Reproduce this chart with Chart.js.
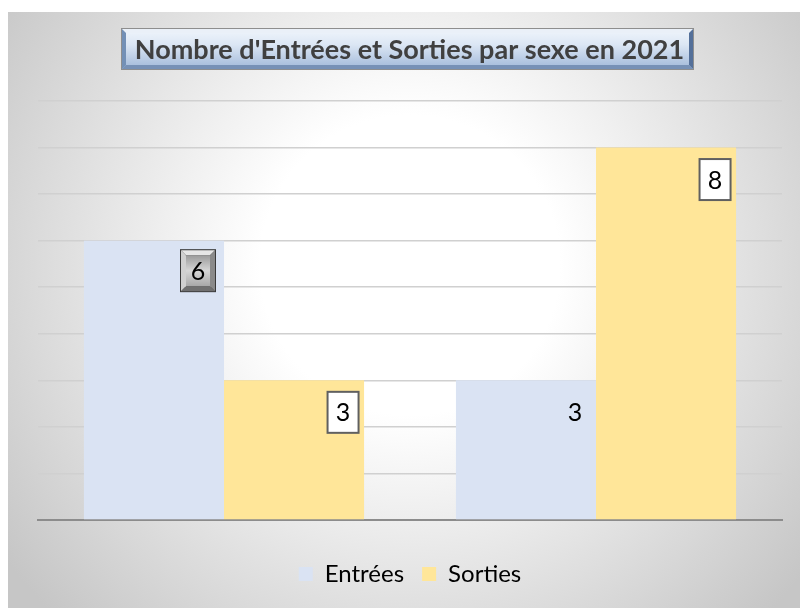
<!DOCTYPE html>
<html>
<head>
<meta charset="utf-8">
<script src="https://cdn.jsdelivr.net/npm/chart.js@4"></script>
<style>
  body { margin: 0; background: #fff; }
  #wrap { position: absolute; left: 0; top: 0; width: 800px; height: 608px; }
</style>
</head>
<body>
<div id="wrap"><canvas id="chart" width="800" height="608"></canvas></div>
<script>
// chart values
const categories = ['', ''];
const entrees = [6, 3];
const sorties = [3, 8];
const yTicks = { min: 0, max: 9, step: 1 };
const chartTitle = "Nombre d'Entrées et Sorties par sexe en 2021";

// label look per series, per category
const labelLook = [
  ['bevel', 'plain'],
  ['box', 'box'],
];

const background = {
  id: 'background',
  beforeDraw(chart) {
    const ctx = chart.ctx;
    ctx.save();
    ctx.fillStyle = '#ffffff';
    ctx.fillRect(0, 0, chart.width, chart.height);
    const g = ctx.createRadialGradient(410, 265, 0, 410, 265, 500);
    g.addColorStop(0, '#ffffff');
    g.addColorStop(0.3, '#ffffff');
    g.addColorStop(1, '#c6c6c6');
    ctx.fillStyle = g;
    ctx.fillRect(8, 12, chart.width - 8, chart.height - 12);
    ctx.restore();
  }
};

const titleBox = {
  id: 'titleBox',
  afterDraw(chart) {
    const ctx = chart.ctx;
    const x = 121, y = 28, w = 573, h = 42, b = 5;
    ctx.save();
    const g = ctx.createLinearGradient(0, y, 0, y + h);
    g.addColorStop(0, '#f1f6fc');
    g.addColorStop(0.4, '#dbe6f4');
    g.addColorStop(1, '#9fb7d8');
    ctx.fillStyle = g;
    ctx.fillRect(x, y, w, h);
    // bevel sides
    ctx.fillStyle = '#eaf0f8';
    ctx.beginPath(); ctx.moveTo(x, y); ctx.lineTo(x + w, y); ctx.lineTo(x + w - b, y + b); ctx.lineTo(x + b, y + b); ctx.fill();
    ctx.fillStyle = '#7390b6';
    ctx.beginPath(); ctx.moveTo(x, y); ctx.lineTo(x + b, y + b); ctx.lineTo(x + b, y + h - b); ctx.lineTo(x, y + h); ctx.fill();
    ctx.fillStyle = '#54709a';
    ctx.beginPath(); ctx.moveTo(x + w, y); ctx.lineTo(x + w - b, y + b); ctx.lineTo(x + w - b, y + h - b); ctx.lineTo(x + w, y + h); ctx.fill();
    ctx.fillStyle = '#7791b6';
    ctx.beginPath(); ctx.moveTo(x, y + h); ctx.lineTo(x + b, y + h - b); ctx.lineTo(x + w - b, y + h - b); ctx.lineTo(x + w, y + h); ctx.fill();
    ctx.strokeStyle = '#8e8e8e';
    ctx.lineWidth = 1;
    ctx.strokeRect(x + 0.5, y + 0.5, w - 1, h - 1);
    ctx.fillStyle = '#404040';
    ctx.font = 'bold 27px Lato';
    ctx.textAlign = 'center';
    ctx.textBaseline = 'middle';
    ctx.fillText(chartTitle, x + w / 2 + 2, y + h / 2 + 1);
    ctx.restore();
  }
};

const valueLabels = {
  id: 'valueLabels',
  afterDatasetsDraw(chart) {
    const ctx = chart.ctx;
    ctx.save();
    chart.data.datasets.forEach((ds, di) => {
      chart.getDatasetMeta(di).data.forEach((bar, i) => {
        const right = bar.x + bar.width / 2;
        const look = labelLook[di][i];
        const bevel = look === 'bevel';
        const cx = right - (bevel ? 26 : 21);
        const cy = bar.y + (bevel ? 30 : 32);
        const bw = bevel ? 34 : 31, bh = 41;
        const bx = cx - bw / 2, by = cy - bh / 2;
        if (look === 'box') {
          ctx.fillStyle = '#ffffff';
          ctx.fillRect(bx, by, bw, bh);
          ctx.strokeStyle = '#606060';
          ctx.lineWidth = 2;
          ctx.strokeRect(bx, by, bw, bh);
        } else if (bevel) {
          ctx.fillStyle = '#3a3a3a';
          ctx.fillRect(bx - 1, by - 1, bw + 2, bh + 2);
          const e = 5;
          ctx.fillStyle = '#e6e6e6';
          ctx.beginPath(); ctx.moveTo(bx, by); ctx.lineTo(bx + bw, by); ctx.lineTo(bx + bw - e, by + e); ctx.lineTo(bx + e, by + e); ctx.fill();
          ctx.fillStyle = '#d0d0d0';
          ctx.beginPath(); ctx.moveTo(bx, by); ctx.lineTo(bx + e, by + e); ctx.lineTo(bx + e, by + bh - e); ctx.lineTo(bx, by + bh); ctx.fill();
          ctx.fillStyle = '#8a8a8a';
          ctx.beginPath(); ctx.moveTo(bx + bw, by); ctx.lineTo(bx + bw - e, by + e); ctx.lineTo(bx + bw - e, by + bh - e); ctx.lineTo(bx + bw, by + bh); ctx.fill();
          ctx.fillStyle = '#707070';
          ctx.beginPath(); ctx.moveTo(bx, by + bh); ctx.lineTo(bx + e, by + bh - e); ctx.lineTo(bx + bw - e, by + bh - e); ctx.lineTo(bx + bw, by + bh); ctx.fill();
          const g = ctx.createLinearGradient(0, by + e, 0, by + bh - e);
          g.addColorStop(0, '#9a9a9a');
          g.addColorStop(0.5, '#d6d6d6');
          g.addColorStop(1, '#a8a8a8');
          ctx.fillStyle = g;
          ctx.fillRect(bx + e, by + e, bw - 2 * e, bh - 2 * e);
        }
        ctx.fillStyle = '#000000';
        ctx.font = '25px Lato';
        ctx.textAlign = 'center';
        ctx.textBaseline = 'middle';
        ctx.fillText(String(ds.data[i]), cx, cy + 1);
      });
    });
    ctx.restore();
  }
};

new Chart(document.getElementById('chart'), {
  type: 'bar',
  data: {
    labels: categories,
    datasets: [
      { label: 'Entrées', data: entrees, backgroundColor: '#dae3f3' },
      { label: 'Sorties', data: sorties, backgroundColor: '#ffe699' },
    ],
  },
  plugins: [background, titleBox, valueLabels],
  options: {
    responsive: false,
    animation: false,
    devicePixelRatio: 1,
    layout: { padding: { left: 38, right: 18, top: 101, bottom: 12 } },
    datasets: { bar: { categoryPercentage: 0.753, barPercentage: 1 } },
    plugins: {
      title: { display: false },
      tooltip: { enabled: false },
      legend: {
        position: 'bottom',
        labels: {
          boxWidth: 14,
          boxHeight: 14,
          padding: 18,
          color: '#000000',
          font: { family: 'Lato', size: 24 },
        },
      },
    },
    scales: {
      x: {
        grid: { display: false },
        ticks: { display: false },
        border: { color: '#8c8c8c', width: 2 },
        afterFit(scale) { scale.height = 24; },
      },
      y: {
        min: yTicks.min,
        max: yTicks.max,
        ticks: { display: false, stepSize: yTicks.step },
        grid: { color: '#d0d0d0', lineWidth: 1.5, drawTicks: false },
        border: { display: false },
        afterFit(scale) { scale.width = 0; },
      },
    },
  },
});
</script>
</body>
</html>
